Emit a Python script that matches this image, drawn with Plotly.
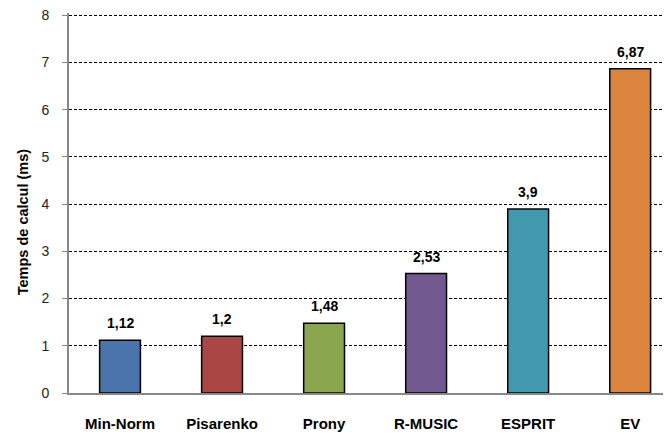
import plotly.graph_objects as go

categories = ["Min-Norm", "Pisarenko", "Prony", "R-MUSIC", "ESPRIT", "EV"]
values = [1.12, 1.2, 1.48, 2.53, 3.9, 6.87]
labels = ["1,12", "1,2", "1,48", "2,53", "3,9", "6,87"]
colors = ["#4A74AA", "#AA4643", "#89A54E", "#71588F", "#4198AF", "#DB843D"]
y_ticks = [0, 1, 2, 3, 4, 5, 6, 7, 8]

FONT = "Liberation Sans"

fig = go.Figure()
fig.add_trace(go.Bar(
    x=list(range(len(categories))),
    y=values,
    width=0.4,
    marker=dict(color=colors, line=dict(color="#000000", width=1.5)),
    hoverinfo="skip",
))

for i, (v, t) in enumerate(zip(values, labels)):
    fig.add_annotation(x=i, y=v, text=f"<b>{t}</b>", showarrow=False,
                       yanchor="bottom", yshift=7,
                       font=dict(family=FONT, size=14, color="#000000"))

fig.add_annotation(xref="paper", yref="paper", x=-0.076, y=0.45,
                   text="<b>Temps de calcul (ms)</b>", textangle=-90,
                   showarrow=False, xanchor="center", yanchor="middle",
                   font=dict(family=FONT, size=14.5, color="#000000"))

# page body adds an 8px offset; compensate so the plot lands where the reference has it
fig.update_layout(
    width=663, height=428,
    margin=dict(l=61, r=0, t=5, b=43),
    paper_bgcolor="white", plot_bgcolor="white",
    showlegend=False,
    font=dict(family=FONT),
)
fig.update_xaxes(
    range=[-0.5, 5.4],
    tickmode="array", tickvals=list(range(len(categories))),
    ticktext=[f"<b>{c}</b>" for c in categories],
    tickfont=dict(family=FONT, size=15, color="#000000"),
    showline=True, linecolor="#888888", linewidth=2,
    showgrid=False, zeroline=False, ticks="",
    ticklabelstandoff=16, automargin=False, ticklabeloverflow="allow",
)
fig.update_yaxes(
    range=[0, 8.05],
    tickmode="array", tickvals=y_ticks,
    ticktext=[str(t) for t in y_ticks],
    tickfont=dict(family=FONT, size=14, color="#222222"),
    showline=True, linecolor="#888888", linewidth=2,
    showgrid=True, gridcolor="#000000", gridwidth=1, griddash="3px,2px",
    zeroline=False, ticks="outside", ticklen=5, tickcolor="#888888", tickwidth=1,
    ticklabelstandoff=10, automargin=False, ticklabeloverflow="allow",
)

fig.write_html("out.html")
